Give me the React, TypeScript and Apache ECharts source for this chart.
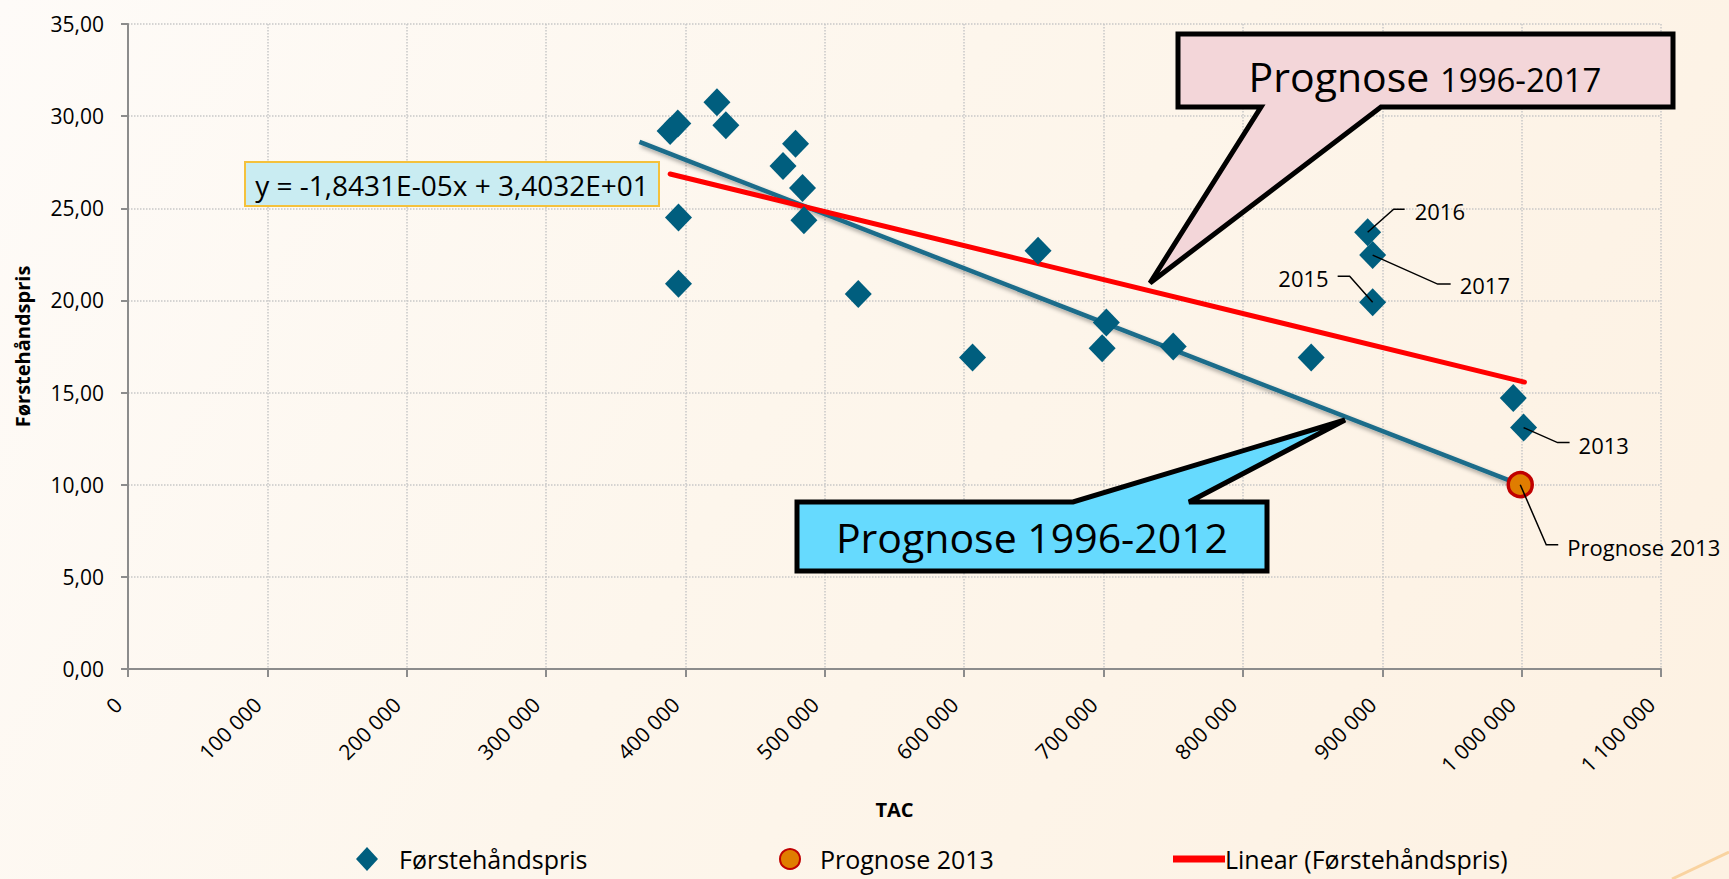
import React, { useEffect, useRef } from 'react';
import * as echarts from 'echarts';

// ---------- data ----------
const TAC = [389000, 394500, 422600, 429000, 395000, 395000, 470000, 479000, 484000, 485000, 524000, 606000, 653000, 702000, 699000, 750000, 849000, 889500, 893100, 893100, 994000, 1001400];
const PRICE = [29.2, 29.6, 30.75, 29.5, 24.5, 20.9, 27.3, 28.5, 26.1, 24.35, 20.35, 16.9, 22.7, 18.8, 17.4, 17.5, 16.9, 23.7, 22.46, 19.9, 14.7, 13.1];

const PROGNOSE_TAC = [999000];
const PROGNOSE_PRICE = [10.0];

const TREND_TAC = [389000, 1002000];
const TREND_PRICE = [26.86, 15.57];

const PROG_LINE_TAC = [367000, 999000];
const PROG_LINE_PRICE = [28.6, 10.0];

// point labels: which point, text
const LABEL_POINTS = [
  { text: '2016', series: 'main', index: 17 },
  { text: '2017', series: 'main', index: 18 },
  { text: '2015', series: 'main', index: 19 },
  { text: '2013', series: 'main', index: 21 },
  { text: 'Prognose 2013', series: 'prog', index: 0 },
];

const X_MIN = 0;
const X_MAX = 1100000;
const X_STEP = 100000;
const Y_MIN = 0;
const Y_MAX = 35;
const Y_STEP = 5;

const EQUATION = 'y = -1,8431E-05x + 3,4032E+01';
const SERIES_NAMES = ['Førstehåndspris', 'Prognose 2013', 'Linear (Førstehåndspris)'];

// ---------- styling / layout ----------
const FONT = "'Open Sans', 'Noto Sans', sans-serif";
const LEADER_LAYOUT: Record<string, { pts: number[][]; tx: number; ty: number; align: string }> = {
  '2016': { pts: [[26, -23], [37, -23]], tx: 47, ty: -21, align: 'left' },
  '2017': { pts: [[65, 29], [78, 29]], tx: 87, ty: 30, align: 'left' },
  '2015': { pts: [[-23, -26], [-35, -26]], tx: -44, ty: -24, align: 'right' },
  '2013': { pts: [[34, 15], [46, 15]], tx: 55, ty: 17, align: 'left' },
  'Prognose 2013': { pts: [[26, 60], [38, 60]], tx: 47, ty: 62, align: 'left' },
};

const fmtX = (v: number) => String(v).replace(/\B(?=(\d{3})+(?!\d))/g, ' ');
const fmtY = (v: number) => v.toFixed(2).replace('.', ',');

export default function App() {
  const ref = useRef<HTMLDivElement>(null);

  useEffect(() => {
    const chart = echarts.init(ref.current!, null, { renderer: 'svg' });
    const axisColor = '#8c8c8c';
    const legendText = { fontSize: 25, lineHeight: 26, color: '#000', fontFamily: FONT };
    const legendTop = 841;
    const option: any = {
      animation: false,
      backgroundColor: 'transparent',
      textStyle: { fontFamily: FONT },
      grid: { left: 128, right: 68, top: 24, bottom: 210 },
      xAxis: {
        type: 'value',
        min: X_MIN,
        max: X_MAX,
        interval: X_STEP,
        name: 'TAC',
        nameLocation: 'middle',
        nameGap: 130,
        nameTextStyle: { fontWeight: 'bold', fontSize: 20, color: '#000', fontFamily: FONT },
        axisLine: { lineStyle: { color: axisColor, width: 2 } },
        axisTick: { show: true, length: 8, lineStyle: { color: axisColor, width: 2 } },
        axisLabel: {
          rotate: 45,
          margin: 22,
          padding: [0, 14, 0, 0],
          fontSize: 21,
          color: '#000',
          formatter: fmtX,
          showMaxLabel: true,
          showMinLabel: true,
        },
        splitLine: { show: true, lineStyle: { type: 'dotted', color: '#c8c8c8', width: 1.5 } },
      },
      yAxis: {
        type: 'value',
        min: Y_MIN,
        max: Y_MAX,
        interval: Y_STEP,
        name: 'Førstehåndspris',
        nameLocation: 'middle',
        nameGap: 96,
        nameTextStyle: { fontWeight: 'bold', fontSize: 20, color: '#000', fontFamily: FONT },
        axisLine: { show: true, lineStyle: { color: axisColor, width: 2 } },
        axisTick: { show: true, length: 7, lineStyle: { color: axisColor, width: 2 } },
        axisLabel: { margin: 24, fontSize: 21, color: '#000', formatter: fmtY },
        splitLine: { show: true, lineStyle: { type: 'dotted', color: '#c8c8c8', width: 1.5 } },
      },
      legend: [
        {
          data: [SERIES_NAMES[0]],
          left: 351,
          top: legendTop,
          icon: 'diamond',
          itemWidth: 22,
          itemHeight: 24,
          textStyle: { ...legendText, padding: [0, 0, 0, 16] },
        },
        {
          data: [SERIES_NAMES[1]],
          left: 774,
          top: legendTop,
          icon: 'circle',
          itemWidth: 20,
          itemHeight: 20,
          textStyle: { ...legendText, padding: [0, 0, 0, 15] },
        },
        {
          data: [SERIES_NAMES[2]],
          left: 1168,
          top: legendTop,
          icon: 'rect',
          itemWidth: 52,
          itemHeight: 7,
          textStyle: { ...legendText, padding: [0, 0, 0, -5] },
        },
      ],
      series: [
        {
          name: 'Prognose 1996-2012',
          type: 'line',
          data: PROG_LINE_TAC.map((x, i) => [x, PROG_LINE_PRICE[i]]),
          showSymbol: false,
          symbol: 'none',
          lineStyle: {
            color: '#1a6c8a',
            width: 4.5,
            shadowColor: 'rgba(0,0,0,0.35)',
            shadowBlur: 4,
            shadowOffsetX: 2,
            shadowOffsetY: 3,
          },
          z: 3,
        },
        {
          name: SERIES_NAMES[2],
          type: 'line',
          data: TREND_TAC.map((x, i) => [x, TREND_PRICE[i]]),
          showSymbol: false,
          symbol: 'none',
          itemStyle: { color: '#ff0000' },
          lineStyle: { color: '#ff0000', width: 5, cap: 'round' },
          z: 3,
        },
        {
          name: SERIES_NAMES[0],
          type: 'scatter',
          symbol: 'diamond',
          symbolSize: [27, 28],
          data: TAC.map((x, i) => [x, PRICE[i]]),
          itemStyle: { color: '#005e7e', opacity: 1 },
          z: 4,
        },
        {
          name: SERIES_NAMES[1],
          type: 'scatter',
          symbol: 'circle',
          symbolSize: 24,
          data: PROGNOSE_TAC.map((x, i) => [x, PROGNOSE_PRICE[i]]),
          itemStyle: { color: '#e07d00', borderColor: '#c00000', borderWidth: 3.5, opacity: 1 },
          z: 5,
        },
      ],
    };
    chart.setOption(option);

    const graphics: any[] = [];

    // decorative stroke in bottom-right corner
    graphics.push({
      type: 'line',
      shape: { x1: 1672, y1: 879, x2: 1729, y2: 852 },
      style: { stroke: '#f9d3a0', lineWidth: 3 },
      z: 1,
    });

    // equation box
    graphics.push({
      type: 'rect',
      shape: { x: 245, y: 162, width: 414, height: 44 },
      style: { fill: '#c9ecf2', stroke: '#f4c13c', lineWidth: 2 },
      z: 20,
    });
    graphics.push({
      type: 'text',
      x: 452,
      y: 185,
      style: {
        text: EQUATION,
        fontSize: 28,
        fontFamily: FONT,
        fill: '#000',
        align: 'center',
        verticalAlign: 'middle',
        textAlign: 'center',
        textVerticalAlign: 'middle',
      },
      z: 21,
    });

    // pink callout
    graphics.push({
      type: 'polygon',
      shape: {
        points: [[1178, 34], [1673, 34], [1673, 107], [1381, 107], [1150, 283], [1261, 107], [1178, 107]],
      },
      style: { fill: '#f3d6d9', stroke: '#000', lineWidth: 5, lineJoin: 'miter' },
      z: 20,
    });
    graphics.push({
      type: 'text',
      x: 1425,
      y: 71,
      style: {
        text: '{a|Prognose} {b|1996-2017}',
        rich: {
          a: { fontSize: 41, fontFamily: FONT, fill: '#000', color: '#000', verticalAlign: 'bottom', lineHeight: 50 },
          b: { fontSize: 33, fontFamily: FONT, fill: '#000', color: '#000', verticalAlign: 'bottom', lineHeight: 46 },
        },
        fontSize: 41,
        fontFamily: FONT,
        fill: '#000',
        align: 'center',
        verticalAlign: 'middle',
        textAlign: 'center',
        textVerticalAlign: 'middle',
      },
      z: 21,
    });

    // blue callout
    graphics.push({
      type: 'polygon',
      shape: {
        points: [[797, 502], [1073, 502], [1345, 420], [1189, 502], [1267, 502], [1267, 571], [797, 571]],
      },
      style: { fill: '#66dafe', stroke: '#000', lineWidth: 5, lineJoin: 'miter' },
      z: 20,
    });
    graphics.push({
      type: 'text',
      x: 1032,
      y: 537,
      style: {
        text: 'Prognose 1996-2012',
        fontSize: 41,
        fontFamily: FONT,
        fill: '#000',
        align: 'center',
        verticalAlign: 'middle',
        textAlign: 'center',
        textVerticalAlign: 'middle',
      },
      z: 21,
    });

    // point labels with leader lines
    LABEL_POINTS.forEach((lp) => {
      const x = lp.series === 'main' ? TAC[lp.index] : PROGNOSE_TAC[lp.index];
      const y = lp.series === 'main' ? PRICE[lp.index] : PROGNOSE_PRICE[lp.index];
      const p = chart.convertToPixel({ gridIndex: 0 }, [x, y]) as number[];
      const lay = LEADER_LAYOUT[lp.text];
      const pts = [[p[0], p[1]], ...lay.pts.map((d) => [p[0] + d[0], p[1] + d[1]])];
      graphics.push({
        type: 'polyline',
        shape: { points: pts },
        style: { stroke: '#000', lineWidth: 1.5, fill: 'none' },
        z: 22,
      });
      graphics.push({
        type: 'text',
        x: p[0] + lay.tx,
        y: p[1] + lay.ty,
        style: {
          text: lp.text,
          fontSize: 22,
          fontFamily: FONT,
          fill: '#000',
          align: lay.align,
          verticalAlign: 'middle',
          textAlign: lay.align,
          textVerticalAlign: 'middle',
        },
        z: 22,
      });
    });

    chart.setOption({ graphic: graphics });

    return () => chart.dispose();
  }, []);

  return (
    <div
      ref={ref}
      style={{
        position: 'absolute',
        left: 0,
        top: 0,
        width: 1729,
        height: 879,
        background: 'linear-gradient(120deg, #fefbf8 0%, #fdf6ec 45%, #fdf1e2 100%)',
      }}
    />
  );
}
